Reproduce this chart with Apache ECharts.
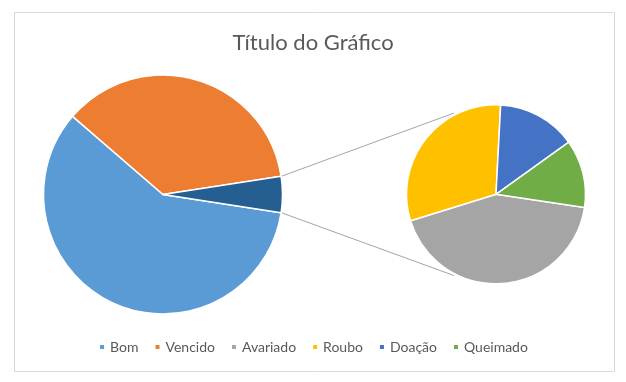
<!DOCTYPE html>
<html><head><meta charset="utf-8">
<script src="https://cdn.jsdelivr.net/npm/echarts@6/dist/echarts.min.js"></script>
<style>html,body{margin:0;padding:0;background:#fff}#c{width:626px;height:382px}</style>
</head><body><div id="c"></div>
<script>
// Data
const mainCategories = ['Bom', 'Vencido'];
const mainValues = [589, 362];
const subCategories = ['Avariado', 'Roubo', 'Doação', 'Queimado'];
const subValues = [21, 15, 7, 6];
const otherName = 'Outro';
const legendNames = ['Bom', 'Vencido', 'Avariado', 'Roubo', 'Doação', 'Queimado'];
const colors = {Bom:'#5B9BD5', Vencido:'#ED7D31', Avariado:'#A5A5A5', Roubo:'#FFC000', 'Doação':'#4472C4', Queimado:'#70AD47', Outro:'#255E91'};

const otherValue = subValues.reduce((a,b)=>a+b,0);
const total = mainValues.reduce((a,b)=>a+b,0) + otherValue;
const otherAngle = otherValue / total * 360;

const C1 = [163, 194.5], R1 = 119.5;
const C2 = [496, 194.3], R2 = 89.5;
const FONT = 'Lato';

const mainData = mainCategories.map((n,i)=>({name:n, value:mainValues[i], itemStyle:{color:colors[n]}}));
mainData.push({name:otherName, value:otherValue, itemStyle:{color:colors[otherName]}});
const subData = subCategories.map((n,i)=>({name:n, value:subValues[i], itemStyle:{color:colors[n]}}));

function pt(c, r, deg){ const a = deg*Math.PI/180; return [c[0]+r*Math.cos(a), c[1]-r*Math.sin(a)]; }
const h = otherAngle/2;
const p1a = pt(C1, R1+1, h), p1b = pt(C1, R1+1, -h);
const p2a = pt(C2, R2+2, 117.5), p2b = pt(C2, R2+2, -117.5);

const chart = echarts.init(document.getElementById('c'), null, {renderer:'canvas'});
chart.setOption({
  animation:false,
  backgroundColor:'#fff',
  title:{text:'Título do Gráfico', left:'center', top:27,
    textStyle:{fontFamily:FONT, fontSize:22, fontWeight:'normal', color:'#595959'}},
  legend:{data:legendNames, bottom:23, left:'center', icon:'rect', itemWidth:6, itemHeight:6, itemGap:15,
    textStyle:{fontFamily:FONT, fontSize:14, color:'#595959'}},
  graphic:[
    {type:'rect', shape:{x:14.5, y:12.5, width:600, height:359}, style:{fill:'none', stroke:'#D9D9D9', lineWidth:1}, silent:true},
    {type:'line', shape:{x1:p1a[0], y1:p1a[1], x2:p2a[0], y2:p2a[1]}, style:{stroke:'#A5A5A5', lineWidth:1}, silent:true},
    {type:'line', shape:{x1:p1b[0], y1:p1b[1], x2:p2b[0], y2:p2b[1]}, style:{stroke:'#A5A5A5', lineWidth:1}, silent:true}
  ],
  series:[
    {type:'pie', center:C1, radius:[0,R1], startAngle:-h, clockwise:true, label:{show:false}, labelLine:{show:false},
     emphasis:{disabled:true}, itemStyle:{borderColor:'#fff', borderWidth:1.5}, data:mainData},
    {type:'pie', center:C2, radius:[0,R2], startAngle:-8.5, clockwise:true, label:{show:false}, labelLine:{show:false},
     emphasis:{disabled:true}, itemStyle:{borderColor:'#fff', borderWidth:1.5}, data:subData}
  ]
});
</script></body></html>
